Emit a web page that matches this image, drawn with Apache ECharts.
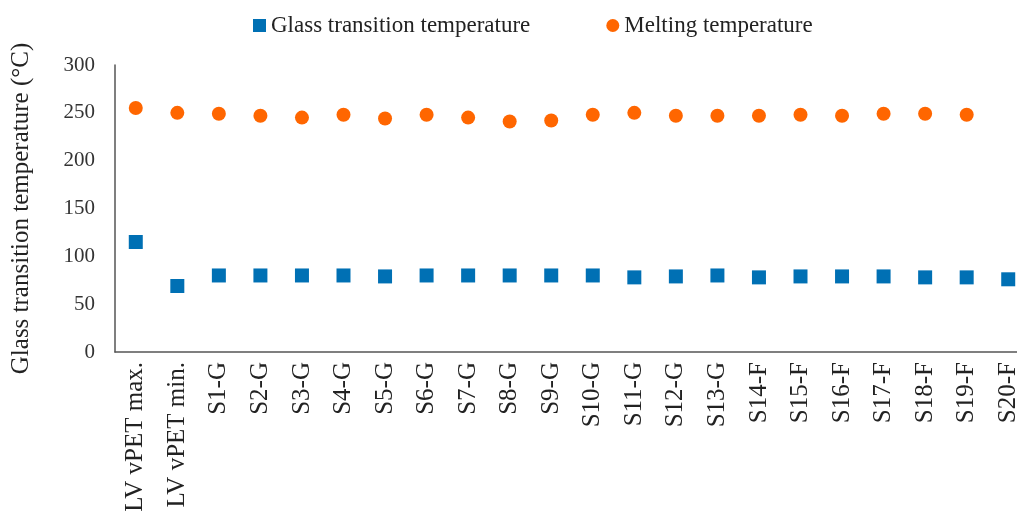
<!DOCTYPE html>
<html>
<head>
<meta charset="utf-8">
<script src="https://cdn.jsdelivr.net/npm/echarts@6/dist/echarts.min.js"></script>
<style>
  html, body { margin: 0; padding: 0; background: #fff; }
  #chart { width: 1017px; height: 521px; }
</style>
</head>
<body>
<div id="chart"></div>
<script>
const samples = [
  'LV vPET max.', 'LV vPET min.',
  'S1-G', 'S2-G', 'S3-G', 'S4-G', 'S5-G', 'S6-G', 'S7-G', 'S8-G', 'S9-G',
  'S10-G', 'S11-G', 'S12-G', 'S13-G',
  'S14-F', 'S15-F', 'S16-F', 'S17-F', 'S18-F', 'S19-F', 'S20-F'
];
const glassTransition = [115, 69, 80, 80, 80, 80, 79, 80, 80, 80, 80, 80, 78, 79, 80, 78, 79, 79, 79, 78, 78, 76];
const meltingTemp = [255, 250, 249, 247, 245, 248, 244, 248, 245, 241, 242, 248, 250, 247, 247, 247, 248, 247, 249, 249, 248, null];

const font = 'Liberation Serif';
const chart = echarts.init(document.getElementById('chart'));

chart.setOption({
  animation: false,
  textStyle: { fontFamily: font },
  legend: {
    top: 9,
    left: 248,
    itemWidth: 13,
    itemHeight: 13,
    itemGap: 76,
    textStyle: { fontFamily: font, fontSize: 23, color: '#222' },
    data: [
      { name: 'Glass transition temperature', icon: 'rect' },
      { name: 'Melting temperature', icon: 'circle' }
    ]
  },
  // plot runs past the right edge, like the cropped original
  grid: { left: 115, top: 65, width: 914, height: 287, outerBoundsMode: 'none' },
  xAxis: {
    type: 'category',
    data: samples,
    axisLine: { lineStyle: { color: '#555', width: 1.5 } },
    axisTick: { show: false },
    axisLabel: {
      rotate: 90,
      interval: 0,
      margin: 10,
      fontFamily: font,
      fontSize: 25,
      color: '#222'
    }
  },
  yAxis: {
    type: 'value',
    min: 0,
    max: 300,
    interval: 50,
    name: 'Glass transition temperature (°C)',
    nameLocation: 'middle',
    nameGap: 81,
    nameTextStyle: { fontFamily: font, fontSize: 25, color: '#222' },
    axisLine: { show: true, lineStyle: { color: '#555', width: 1.5 } },
    axisTick: { show: false },
    splitLine: { show: false },
    axisLabel: { fontFamily: font, fontSize: 21, color: '#333', margin: 20 }
  },
  series: [
    {
      name: 'Glass transition temperature',
      type: 'scatter',
      symbol: 'rect',
      symbolSize: 14,
      itemStyle: { color: '#0070b4', opacity: 1 },
      data: glassTransition
    },
    {
      name: 'Melting temperature',
      type: 'scatter',
      symbol: 'circle',
      symbolSize: 14,
      itemStyle: { color: '#ff6600', opacity: 1 },
      data: meltingTemp
    }
  ]
});
</script>
</body>
</html>
